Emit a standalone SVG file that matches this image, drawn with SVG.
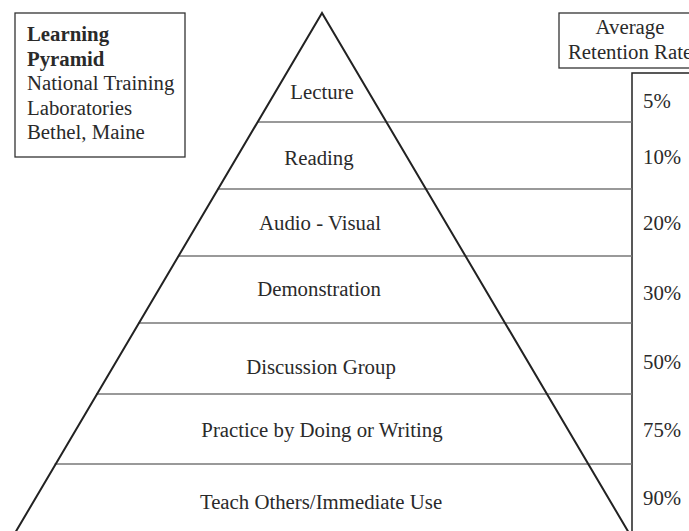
<svg xmlns="http://www.w3.org/2000/svg" width="689" height="531" viewBox="0 0 689 531">
<style>
text{font-family:"Liberation Serif","Times New Roman",serif;font-size:20.8px;fill:#2a2a2a}
.c{text-anchor:middle}
.b{font-weight:bold}
.box{fill:#fff;stroke:#333;stroke-width:1.3}
.edge{fill:none;stroke:#222;stroke-width:2}
.div{stroke:#777;stroke-width:1.5}
.vl{stroke:#222;stroke-width:1.5;fill:none}
</style>
<rect width="689" height="531" fill="#fff"/>
<g id="title-box">
<rect class="box" x="15" y="13" width="170" height="144"/>
<text class="b" x="27" y="41">Learning</text>
<text class="b" x="27" y="65.5">Pyramid</text>
<text x="27" y="90">National Training</text>
<text x="27" y="114.5">Laboratories</text>
<text x="27" y="139">Bethel, Maine</text>
</g>
<g id="rate-header">
<rect class="box" x="559" y="13" width="140" height="55"/>
<text class="c" x="630" y="34">Average</text>
<text x="568" y="59">Retention Rate</text>
</g>
<g id="rate-column">
<path class="vl" d="M632 531V73H695"/>
</g>
<g id="connectors">
<line class="div" x1="257.4" y1="122" x2="632" y2="122"/>
<line class="div" x1="217.7" y1="189" x2="632" y2="189"/>
<line class="div" x1="178" y1="256" x2="632" y2="256"/>
<line class="div" x1="138.2" y1="323" x2="632" y2="323"/>
<line class="div" x1="96.1" y1="394" x2="632" y2="394"/>
<line class="div" x1="54.6" y1="464" x2="632" y2="464"/>
</g>
<g id="pyramid">
<path class="edge" d="M15 533L322 13L629 533"/>
</g>
<g id="lecture"><text class="c" x="322" y="99">Lecture</text><text x="643" y="108">5%</text></g>
<g id="reading"><text class="c" x="319" y="165">Reading</text><text x="643" y="164">10%</text></g>
<g id="audio-visual"><text class="c" x="320" y="230">Audio - Visual</text><text x="643" y="230">20%</text></g>
<g id="demonstration"><text class="c" x="319" y="296">Demonstration</text><text x="643" y="300">30%</text></g>
<g id="discussion"><text class="c" x="321" y="374">Discussion Group</text><text x="643" y="369">50%</text></g>
<g id="practice"><text class="c" x="322" y="437">Practice by Doing or Writing</text><text x="643" y="437">75%</text></g>
<g id="teach"><text class="c" x="321" y="509">Teach Others/Immediate Use</text><text x="643" y="505">90%</text></g>
</svg>
